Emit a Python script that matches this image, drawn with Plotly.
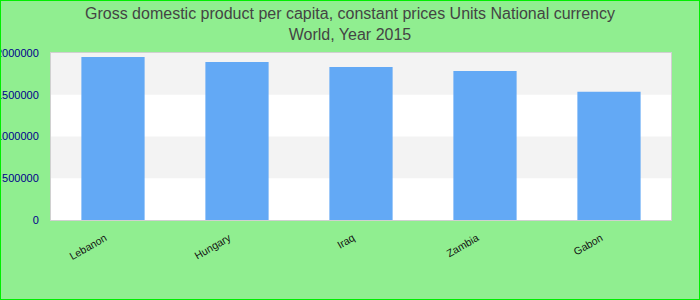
import plotly.graph_objects as go

countries = ["Lebanon", "Hungary", "Iraq", "Zambia", "Gabon"]
gdp_values = [1952000, 1893000, 1833000, 1785000, 1535000]
y_ticks = [0, 500000, 1000000, 1500000, 2000000]
y_labels = ["0", "500000", "1000000", "1500000", "2000000"]

L, R, T, B = 51, 29, 53, 80
W, H = 700, 300
pw, ph = W - L - R, H - T - B

fig = go.Figure()
fig.add_trace(go.Bar(x=countries, y=gdp_values, marker=dict(color="#63a9f5", line=dict(width=0)),
                     hoverinfo="x+y"))

shapes = []
for lo, hi in [(1500000, 2000000), (500000, 1000000)]:
    shapes.append(dict(type="rect", xref="paper", yref="y", x0=0, x1=1, y0=lo, y1=hi,
                       fillcolor="#f3f3f3", line=dict(width=0), layer="below"))
shapes.append(dict(type="rect", xref="paper", yref="paper",
                   x0=-L / pw, x1=1 + R / pw, y0=-B / ph, y1=1 + T / ph,
                   line=dict(color="#00ee00", width=2), fillcolor="rgba(0,0,0,0)", layer="above"))

fig.update_layout(
    width=W, height=H,
    margin=dict(l=L, r=R, t=T, b=B, autoexpand=False),
    paper_bgcolor="#90ee90",
    plot_bgcolor="#ffffff",
    font=dict(family="Liberation Sans, Arial, sans-serif"),
    title=dict(text="Gross domestic product per capita, constant prices Units National currency<br>World, Year 2015",
               x=0.5, xref="container", xanchor="center", yref="container", y=0.937, yanchor="middle",
               font=dict(size=16, color="#444444")),
    bargap=0.49,
    showlegend=False,
    shapes=shapes,
    xaxis=dict(tickangle=-30, tickfont=dict(size=10.5, color="#111111"), showgrid=False, automargin=False,
               showline=True, linecolor="#d0d0d0", linewidth=1, mirror=True, ticks="",
               ticklabelshift=-8, ticklabelstandoff=7),
    yaxis=dict(range=[0, 2000000], tickvals=y_ticks, ticktext=y_labels, automargin=False,
               tickfont=dict(size=11, color="#00008b"), showgrid=False, zeroline=False,
               showline=True, linecolor="#d0d0d0", linewidth=1, mirror=True,
               ticks="outside", ticklen=9, tickcolor="rgba(0,0,0,0)"),
)

fig.write_html("out.html")
